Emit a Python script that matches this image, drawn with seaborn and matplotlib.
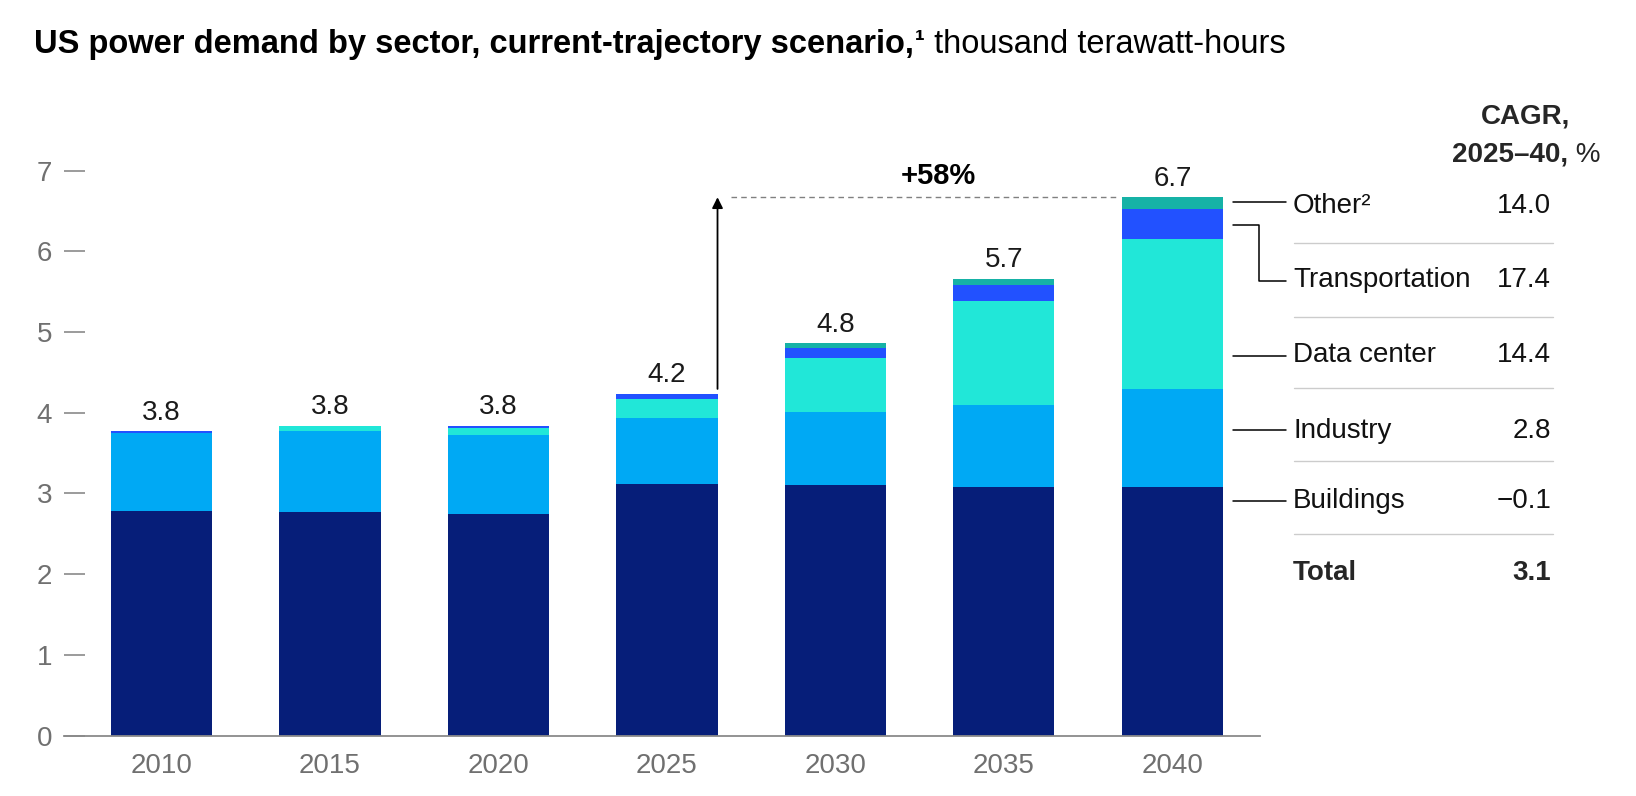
import matplotlib
matplotlib.use("Agg")
import matplotlib.pyplot as plt
import seaborn as sns
import numpy as np
import pandas as pd

# ---------------- data ----------------
years = ["2010", "2015", "2020", "2025", "2030", "2035", "2040"]
buildings = [2.78, 2.77, 2.74, 3.12, 3.10, 3.08, 3.08]
industry = [0.97, 1.00, 0.98, 0.82, 0.91, 1.02, 1.21]
data_center = [0.00, 0.07, 0.09, 0.23, 0.67, 1.28, 1.86]
transportation = [0.02, 0.00, 0.025, 0.06, 0.12, 0.20, 0.37]
other = [0.00, 0.00, 0.00, 0.005, 0.06, 0.08, 0.15]
total_labels = ["3.8", "3.8", "3.8", "4.2", "4.8", "5.7", "6.7"]

sectors = ["Other²", "Transportation", "Data center", "Industry", "Buildings"]
cagr = ["14.0", "17.4", "14.4", "2.8", "−0.1"]
total_cagr = "3.1"
growth_label = "+58%"

colors = {
    "Buildings": "#061e79",
    "Industry": "#00a9f4",
    "Data center": "#21e7d8",
    "Transportation": "#2251ff",
    "Other": "#16b2a6",
}

# ---------------- figure ----------------
sns.set_theme(style="white")
plt.rcParams["font.family"] = ["Liberation Sans", "DejaVu Sans"]

W, H = 1636, 796
fig = plt.figure(figsize=(W / 100, H / 100), dpi=100)
ax = fig.add_axes([64 / W, 1 - 735.5 / H, (1260 - 64) / W, (735.5 - 146.4) / H])

df = pd.DataFrame({
    "year": years,
    "Buildings": buildings,
    "Industry": industry,
    "Data center": data_center,
    "Transportation": transportation,
    "Other": other,
})
layers = ["Buildings", "Industry", "Data center", "Transportation", "Other"]
cum = df[layers].cumsum(axis=1)
totals = cum["Other"].values

# draw cumulative layers from top to bottom so each covers the part below
for name in reversed(layers):
    sns.barplot(x=df["year"], y=cum[name], color=colors[name], saturation=1,
                width=0.6, linewidth=0, edgecolor="none", ax=ax, order=years)

ax.set_xlim(-0.579, 6.52)
ax.set_ylim(0, 7.3)
ax.set_yticks(range(0, 8))
ax.set_xlabel("")
ax.set_ylabel("")
for s in ["top", "right", "left"]:
    ax.spines[s].set_visible(False)
ax.spines["bottom"].set_color("#8a8a8a")
ax.spines["bottom"].set_linewidth(1.3)
ax.tick_params(axis="y", left=True, direction="in", length=15, width=1.2,
               color="#8a8a8a", labelsize=20, labelcolor="#707070", pad=8.6)
ax.tick_params(axis="x", bottom=False, length=0, labelsize=20,
               labelcolor="#707070", pad=12.5)
ax.grid(False)

# total labels
for i, lab in enumerate(total_labels):
    ax.annotate(lab, (i, totals[i]), xytext=(0, 4), textcoords="offset points",
                ha="center", va="bottom", fontsize=20, color="#1a1a1a")

# growth arrow and dashed line
ax.annotate("", xy=(3.3, totals[6]), xytext=(3.3, totals[3] + 0.06),
            arrowprops=dict(arrowstyle="-|>", color="black", lw=1.3,
                            mutation_scale=16, shrinkA=0, shrinkB=0))
ax.plot([3.38, 5.68], [totals[6], totals[6]], ls=(0, (4, 3)), color="#808080", lw=1)
ax.text(4.61, 6.93, growth_label, ha="center", va="center", fontsize=21,
        fontweight="bold", color="black")

# ---------------- overlay in pixel coordinates ----------------
ov = fig.add_axes([0, 0, 1, 1], facecolor="none")
ov.set_xlim(0, W)
ov.set_ylim(H, 0)
ov.axis("off")

# title
TS = 23.5
t1 = ov.text(34, 53, "US power demand by sector, current-trajectory scenario,",
             fontsize=TS, fontweight="bold", va="baseline", ha="left", color="black")
fig.canvas.draw()
r = fig.canvas.get_renderer()
bb = t1.get_window_extent(r)
t2 = ov.text(bb.x1 + 1, 50, "¹", fontsize=TS * 0.9, fontweight="bold", va="baseline",
             ha="left", color="black")
bb2 = t2.get_window_extent(r)
ov.text(bb2.x1, 53, " thousand terawatt-hours", fontsize=TS, va="baseline",
        ha="left", color="black")

# header
ov.text(1526, 123, "CAGR,", fontsize=20, fontweight="bold", ha="center", va="baseline")
h1 = ov.text(0, 162, "2025–40,", fontsize=20, fontweight="bold", ha="left", va="baseline")
h2 = ov.text(0, 162, " %", fontsize=20, ha="left", va="baseline")
w1 = h1.get_window_extent(r).width
w2 = h2.get_window_extent(r).width
x0 = 1526 - (w1 + w2) / 2
h1.set_x(x0)
h2.set_x(x0 + w1)

# table rows
baselines = [213, 287, 362, 438, 508]
for lab, val, yb in zip(sectors, cagr, baselines):
    ov.text(1293, yb, lab, fontsize=20, ha="left", va="baseline", color="#111111")
    ov.text(1551, yb, val, fontsize=20, ha="right", va="baseline", color="#111111")
ov.text(1293, 580, "Total", fontsize=20, fontweight="bold", ha="left", va="baseline")
ov.text(1551, 580, total_cagr, fontsize=20, fontweight="bold", ha="right", va="baseline")

for ys in [243, 317, 388, 461, 534]:
    ov.plot([1294, 1553], [ys, ys], color="#cccccc", lw=1)

# leader lines
lc = dict(color="black", lw=1.1)
ov.plot([1233, 1286], [202, 202], **lc)
ov.plot([1233, 1259, 1259, 1286], [225, 225, 281, 281], **lc)
ov.plot([1233, 1286], [356, 356], **lc)
ov.plot([1233, 1286], [430, 430], **lc)
ov.plot([1233, 1286], [501, 501], **lc)

fig.savefig("out.png", dpi=100)
